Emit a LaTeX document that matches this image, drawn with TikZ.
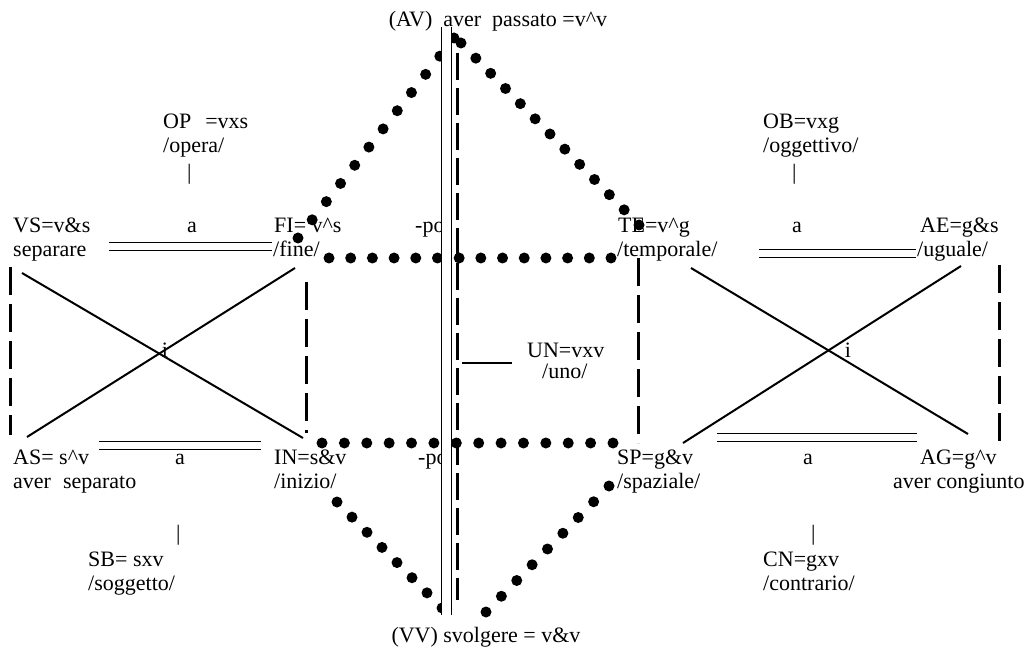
\documentclass[tikz,border=0pt]{standalone}
\usepackage{fontspec}
\setmainfont{Liberation Serif}
\usetikzlibrary{calc}
\begin{document}
\begin{tikzpicture}[x=1pt,y=-1pt,
  lbl/.style={anchor=base west,inner sep=0pt,font=\fontsize{22}{24}\selectfont},
  clbl/.style={anchor=base,inner sep=0pt,font=\fontsize{22}{24}\selectfont},
  cross/.style={line width=2pt},
  bigdash/.style={line width=3pt,dash pattern=on 28pt off 9pt},
  dbl/.style={line width=1pt,double=white,double distance=7pt},
  vdbl/.style={line width=1pt,double=white,double distance=9.5pt},
  unline/.style={line width=2.5pt},
  dotr/.style={fill=black}]
\useasboundingbox (0,0) rectangle (1031,652);
% labels
\node[clbl] (av) at (498,27) {(AV)~~aver~~passato =v\textasciicircum v};
\node[lbl] (op) at (163,129) {OP\hspace{14pt}=vxs};
\node[lbl] (opb) at (163,153) {/opera/};
\node[lbl] (opbar) at (187,180) {|};
\node[lbl] (ob) at (763,129) {OB=vxg};
\node[lbl] (obb) at (763,153) {/oggettivo/};
\node[lbl] (obbar) at (792,180) {|};
\node[lbl] (vs) at (13,233) {VS=v\&s};
\node[lbl] (vsb) at (13,257) {separare};
\node[clbl] (a1) at (192,233) {a};
\node[lbl] (fi) at (274,233) {FI= v\textasciicircum s};
\node[lbl] (fib) at (273,257) {/fine/};
\node[lbl] (po1) at (415,233) {-po};
\node[lbl] (te) at (618,233) {TE=v\textasciicircum g};
\node[lbl] (teb) at (617,257) {/temporale/};
\node[clbl] (a2) at (797,233) {a};
\node[lbl] (ae) at (920,233) {AE=g\&s};
\node[lbl] (aeb) at (917,257) {/uguale/};
\node[clbl] (i1) at (165,357) {i};
\node[clbl] (i2) at (848,357) {i};
\node[lbl] (un) at (527,358) {UN=vxv};
\node[lbl] (unb) at (542,378) {/uno/};
\node[lbl] (as) at (13,464) {AS= s\textasciicircum v};
\node[lbl] (asb) at (13,488) {aver\hspace{12pt}separato};
\node[clbl] (a3) at (180,464) {a};
\node[lbl] (inn) at (274,464) {IN=s\&v};
\node[lbl] (innb) at (274,488) {/inizio/};
\node[lbl] (po2) at (418,464) {-po};
\node[lbl] (sp) at (617,464) {SP=g\&v};
\node[lbl] (spb) at (617,488) {/spaziale/};
\node[clbl] (a4) at (808,464) {a};
\node[lbl] (ag) at (920,464) {AG=g\textasciicircum v};
\node[lbl] (agb) at (893,488) {aver congiunto};
\node[lbl] (sbbar) at (176,540) {|};
\node[lbl] (sb) at (88,566) {SB= sxv};
\node[lbl] (sbb) at (88,590) {/soggetto/};
\node[lbl] (cnbar) at (811,540) {|};
\node[lbl] (cn) at (763,566) {CN=gxv};
\node[lbl] (cnb) at (763,590) {/contrario/};
\node[clbl] (vv) at (486,642) {(VV) svolgere = v\&v};
% coordinates
\coordinate (d1a) at (109,247); \coordinate (d1b) at (272,247);
\coordinate (d2a) at (99,445); \coordinate (d2b) at (261,445);
\coordinate (d3a) at (759,253.5); \coordinate (d3b) at (916,253.5);
\coordinate (d4a) at (717,437.5); \coordinate (d4b) at (917,437.5);
\coordinate (va) at (446.25,27); \coordinate (vb) at (446.25,615);
\coordinate (ca) at (457,53); \coordinate (cb) at (457,600);
\coordinate (l1a) at (10,267); \coordinate (l1b) at (10,435);
\coordinate (l2a) at (306,282); \coordinate (l2b) at (306,433);
\coordinate (r1a) at (638,258); \coordinate (r1b) at (638,443);
\coordinate (r2a) at (999,265); \coordinate (r2b) at (999,443);
\coordinate (x1a) at (22,273); \coordinate (x1b) at (303,438);
\coordinate (x2a) at (27,437); \coordinate (x2b) at (295,268);
\coordinate (x3a) at (691,268); \coordinate (x3b) at (968,434);
\coordinate (x4a) at (961,266); \coordinate (x4b) at (683,443);
\coordinate (una) at (462,363); \coordinate (unc) at (512,363);
\coordinate (p1a) at (298,238); \coordinate (p1b) at (454,38);
\coordinate (p2a) at (461,43); \coordinate (p2b) at (639,225);
\coordinate (p3a) at (329,258); \coordinate (p3b) at (611,258);
\coordinate (p4a) at (322,443); \coordinate (p4b) at (613,443);
\coordinate (p5a) at (337,502); \coordinate (p5b) at (442,608);
\coordinate (p6a) at (486,612); \coordinate (p6b) at (609,486);
% connectors
\draw[dbl] (d1a) -- (d1b);
\draw[dbl] (d2a) -- (d2b);
\draw[dbl] (d3a) -- (d3b);
\draw[dbl] (d4a) -- (d4b);
\draw[bigdash] (l1a) -- (l1b);
\draw[bigdash] (l2a) -- (l2b);
\draw[bigdash] (r1a) -- (r1b);
\draw[bigdash] (r2a) -- (r2b);
\draw[cross] (x1a) -- (x1b);
\draw[cross] (x2a) -- (x2b);
\draw[cross] (x3a) -- (x3b);
\draw[cross] (x4a) -- (x4b);
\draw[unline] (una) -- (unc);
% dotted lines
\foreach \i in {0,...,11} \fill[dotr] ($(p1a)!\i/11!(p1b)$) circle (5.5);
\foreach \i in {0,...,12} \fill[dotr] ($(p2a)!\i/12!(p2b)$) circle (5.5);
\foreach \i in {0,...,13} \fill[dotr] ($(p3a)!\i/13!(p3b)$) circle (5.5);
\foreach \i in {0,...,13} \fill[dotr] ($(p4a)!\i/13!(p4b)$) circle (5.5);
\foreach \i in {0,...,7} \fill[dotr] ($(p5a)!\i/7!(p5b)$) circle (5.5);
\foreach \i in {0,...,8} \fill[dotr] ($(p6a)!\i/8!(p6b)$) circle (5.5);
\draw[vdbl] (va) -- (vb);
\draw[bigdash,dash pattern=on 27pt off 8pt] (ca) -- (cb);
\end{tikzpicture}
\end{document}
